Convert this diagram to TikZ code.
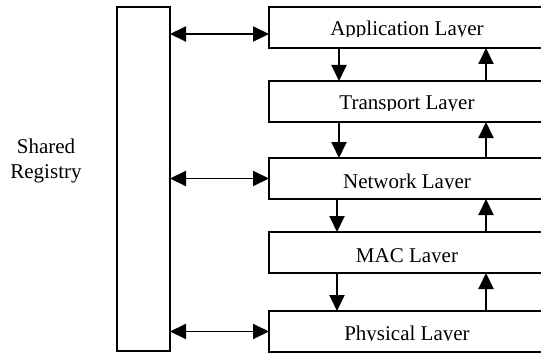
\documentclass[tikz,border=0pt]{standalone}
\usepackage{fontspec}
\setmainfont{Liberation Serif}
\usetikzlibrary{arrows.meta}
\begin{document}
\begin{tikzpicture}[x=1pt,y=-1pt,
  box/.style={draw, line width=1.8pt, inner sep=0pt, outer sep=0pt, anchor=north west},
  layerbox/.style={box, minimum width=276pt, minimum height=41pt},
  lbl/.style={font=\fontsize{21}{25}\selectfont, inner sep=0pt, anchor=base},
  flow/.style={line width=1.9pt, -{Triangle[length=16pt,width=15pt]}},
  link/.style={line width=1.9pt, {Triangle[length=16pt,width=15pt]}-{Triangle[length=16pt,width=15pt]}}]
\useasboundingbox (0,0) rectangle (541,353);
\clip (0,0) rectangle (541,353);

% shared registry column
\node[box, minimum width=53pt, minimum height=344pt] (reg) at (117,7) {};
\node[lbl] (regA) at (46,153) {Shared};
\node[lbl] (regB) at (46,178) {Registry};

% protocol stack
\node[layerbox] (app) at (269,7)   {};
\node[layerbox] (tr)  at (269,81)  {};
\node[layerbox] (net) at (269,158) {};
\node[layerbox] (mac) at (269,232) {};
\node[layerbox] (phy) at (269,311) {};

% labels are cut at the baseline by their text frame
\begin{scope}\clip (269,7) rectangle (545,36.6);
  \node[lbl] (appt) at (407,36) {Application Layer};\end{scope}
\begin{scope}\clip (269,81) rectangle (545,110.6);
  \node[lbl] (trt) at (407,110) {Transport Layer};\end{scope}
\begin{scope}\clip (269,158) rectangle (545,188.6);
  \node[lbl] (nett) at (407,188) {Network Layer};\end{scope}
\begin{scope}\clip (269,232) rectangle (545,262.6);
  \node[lbl] (mact) at (407,262) {MAC Layer};\end{scope}
\begin{scope}\clip (269,311) rectangle (545,340.6);
  \node[lbl] (phyt) at (407,340) {Physical Layer};\end{scope}

% downward flow
\draw[flow] ([xshift=70pt]app.south west) -- ([xshift=70pt]tr.north west);
\draw[flow] ([xshift=70pt]tr.south west)  -- ([xshift=70pt]net.north west);
\draw[flow] ([xshift=68pt]net.south west) -- ([xshift=68pt]mac.north west);
\draw[flow] ([xshift=68pt]mac.south west) -- ([xshift=68pt]phy.north west);

% upward flow
\draw[flow] ([xshift=217pt]tr.north west)  -- ([xshift=217pt]app.south west);
\draw[flow] ([xshift=217pt]net.north west) -- ([xshift=217pt]tr.south west);
\draw[flow] ([xshift=217pt]mac.north west) -- ([xshift=217pt]net.south west);
\draw[flow] ([xshift=217pt]phy.north west) -- ([xshift=217pt]mac.south west);

% registry access
\draw[link] ([yshift=-27pt]reg.north east) -- ([yshift=-27pt]app.north west);
\draw[link] (reg.east |- net.west) -- (net.west);
\draw[link] (reg.east |- phy.west) -- (phy.west);
\end{tikzpicture}
\end{document}
